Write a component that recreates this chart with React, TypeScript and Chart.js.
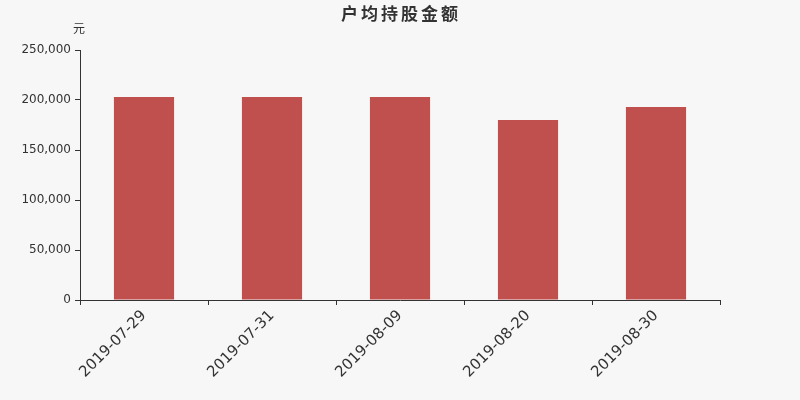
import { useEffect, useRef } from 'react'
import { Chart, ChartConfiguration, Plugin } from 'chart.js/auto'

const dates = ['2019-07-29', '2019-07-31', '2019-08-09', '2019-08-20', '2019-08-30']
const amounts = [203000, 203000, 203000, 180000, 193000]
const chartTitle = '户均持股金额'
const unitLabel = '元'

const textColor = '#333333'
const barColor = '#c0504d'

// draws the title and the unit over the y axis
const headerPlugin: Plugin = {
  id: 'header',
  afterDraw(chart) {
    const ctx = chart.ctx as any
    ctx.save()
    ctx.fillStyle = textColor
    ctx.textAlign = 'center'
    ctx.textBaseline = 'middle'
    ctx.font = 'bold 17px "Noto Sans CJK SC", "DejaVu Sans", sans-serif'
    ctx.letterSpacing = '3px'
    ctx.fillText(chartTitle, 401, 14)
    ctx.letterSpacing = '0px'
    ctx.font = '12px "Noto Sans CJK SC", "DejaVu Sans", sans-serif'
    ctx.fillText(unitLabel, 79, 28)
    ctx.restore()
  },
}

export default function App() {
  const chartRef = useRef<HTMLCanvasElement>(null)
  const chartInstance = useRef<Chart | null>(null)

  useEffect(() => {
    if (!chartRef.current) return
    document.body.style.margin = '0'

    if (chartInstance.current) {
      chartInstance.current.destroy()
    }

    const config: ChartConfiguration = {
      type: 'bar',
      data: {
        labels: dates,
        datasets: [{
          data: amounts,
          backgroundColor: barColor,
          borderWidth: 0,
          categoryPercentage: 0.94,
          barPercentage: 0.5,
        }],
      },
      options: {
        animation: false,
        responsive: false,
        maintainAspectRatio: false,
        layout: { padding: { top: 50, right: 80, left: 0, bottom: 0 } },
        plugins: {
          legend: { display: false },
          title: { display: false },
          tooltip: { enabled: false },
        },
        scales: {
          x: {
            afterFit: (scale: any) => { scale.height = 100 },
            border: { color: textColor, width: 1 },
            grid: { display: true, drawOnChartArea: false, drawTicks: true, tickLength: 5, color: textColor, offset: true },
            ticks: {
              color: textColor,
              maxRotation: 45,
              minRotation: 45,
              padding: 2,
              font: { family: '"DejaVu Sans", sans-serif', size: 15 },
            },
          },
          y: {
            min: 0,
            max: 250000,
            afterFit: (scale: any) => { scale.width = 80 },
            border: { color: textColor, width: 1 },
            grid: { display: true, drawOnChartArea: false, drawTicks: true, tickLength: 5, color: textColor },
            ticks: {
              stepSize: 50000,
              color: textColor,
              padding: 4,
              font: { family: '"DejaVu Sans", sans-serif', size: 12 },
              callback: (v: any) => Number(v).toLocaleString('en-US'),
            },
          },
        },
      },
      plugins: [headerPlugin],
    }

    chartInstance.current = new Chart(chartRef.current, config)

    return () => {
      if (chartInstance.current) {
        chartInstance.current.destroy()
      }
    }
  }, [])

  return (
    <div style={{ width: 800, height: 400, background: '#f7f7f7' }}>
      <canvas ref={chartRef} width={800} height={400}></canvas>
    </div>
  )
}
